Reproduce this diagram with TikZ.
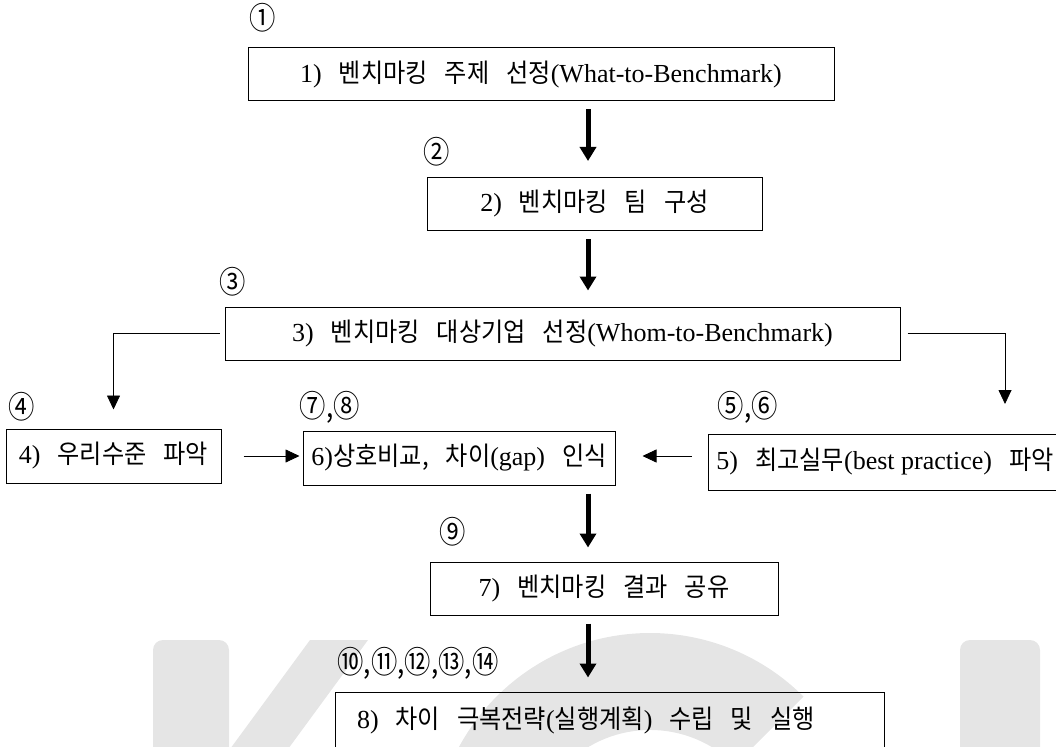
\documentclass[tikz,border=0pt]{standalone}
\usepackage{fontspec}
\setmainfont{Liberation Serif}
\newfontfamily\krfont{Noto Sans CJK KR}[FakeStretch=0.93]
\newfontfamily\numfont{Noto Sans CJK KR}[FakeStretch=0.85]
\usetikzlibrary{arrows.meta}
\newcommand\kr[1]{{\krfont\spaceskip=17pt\relax#1}}
\begin{document}
\begin{tikzpicture}[x=1pt,y=-1pt,
    box/.style={draw,line width=1pt,minimum height=53pt,inner sep=0pt,font=\fontsize{26}{30}\selectfont},
    num/.style={inner sep=0pt,font=\numfont\fontsize{31}{34}\selectfont},
    bigarrow/.style={line width=5pt,-{Triangle[width=16pt,length=14pt]}},
    thinarrow/.style={line width=0.8pt,-{Triangle[width=13pt,length=14pt]}},
    wm/.style={fill=black!10}]
    \useasboundingbox (0,0) rectangle (1056,746);
    \clip (0,0) rectangle (1056,746);
    % watermark
    \fill[wm,rounded corners=10pt] (153,760) -- (153,640) -- (229,640) -- (229,760) -- cycle;
    \fill[wm] (310,640) -- (368,640) -- (280,760) -- (222,760) -- cycle;
    \fill[wm] (433,850) arc[start angle=180,end angle=315,radius=217] -- (734.9,765.1) arc[start angle=315,end angle=180,radius=120] -- cycle;
    \fill[wm,rounded corners=10pt] (960,760) -- (960,640) -- (1040,640) -- (1040,760) -- cycle;
    % steps
    \coordinate (axis) at (588,0);
    \node[box,minimum width=586pt](b1)at(541,74.5){1)\kr{ 벤치마킹 주제 선정}(What-to-Benchmark)};
    \node[box,minimum width=335pt](b2)at(594.5,204){2)\kr{ 벤치마킹 팀 구성}};
    \node[box,minimum width=675pt](b3)at(562.5,333.5){3)\kr{ 벤치마킹 대상기업 선정}(Whom-to-Benchmark)};
    \node[box,minimum width=215pt,minimum height=54pt](b4)at(113.5,456){4)\kr{ 우리수준 파악}};
    \node[box,minimum width=312pt,minimum height=54pt](b6)at(459,458){6)\kr{상호비교, 차이}(gap)\kr{ 인식}};
    \node[box,minimum width=354pt,minimum height=56pt](b5)at(885,462){5)\kr{ 최고실무}(best practice)\kr{ 파악}};
    \node[box,minimum width=348pt](b7)at(604,588.5){7)\kr{ 벤치마킹 결과 공유}};
    \node[box,minimum width=549pt,minimum height=56pt,text width=505pt,align=left](b8)at(609.5,720){8)\kr{ 차이 극복전략}(\kr{실행계획})\kr{ 수립 및 실행}};
    % numbers
    \node[num](n1)at(263,18){①};
    \node[num](n2)at(437,152){②};
    \node[num](n3)at(233,282){③};
    \node[num](n4)at(22,407){④};
    \node[num](n78)at(330,407){⑦,⑧};
    \node[num](n56)at(748,407){⑤,⑥};
    \node[num](n9)at(453,532){⑨};
    \node[num](n10)at(418,663){⑩,⑪,⑫,⑬,⑭};
    % arrows
    \draw[bigarrow,shorten <=8pt,shorten >=16pt](b1.south -| axis)--(b2.north -| axis);
    \draw[bigarrow,shorten <=8pt,shorten >=16pt](b2.south -| axis)--(b3.north -| axis);
    \draw[bigarrow,shorten <=8pt,shorten >=14pt](b6.south -| axis)--(b7.north -| axis);
    \draw[bigarrow,shorten <=8pt,shorten >=14pt](b7.south -| axis)--(b8.north -| axis);
    \coordinate (rdrop) at (1005,404);
    \draw[thinarrow,shorten <=5pt,shorten >=19pt](b3.west)-|(b4.north);
    \draw[thinarrow,shorten <=7pt](b3.east)-|(rdrop);
    \draw[thinarrow,shorten <=22pt,shorten >=3pt](b4.east)--(b4.east -| b6.west);
    \draw[thinarrow,shorten <=16pt,shorten >=27pt](b5.west |- b4.east)--(b6.east |- b4.east);
\end{tikzpicture}
\end{document}
